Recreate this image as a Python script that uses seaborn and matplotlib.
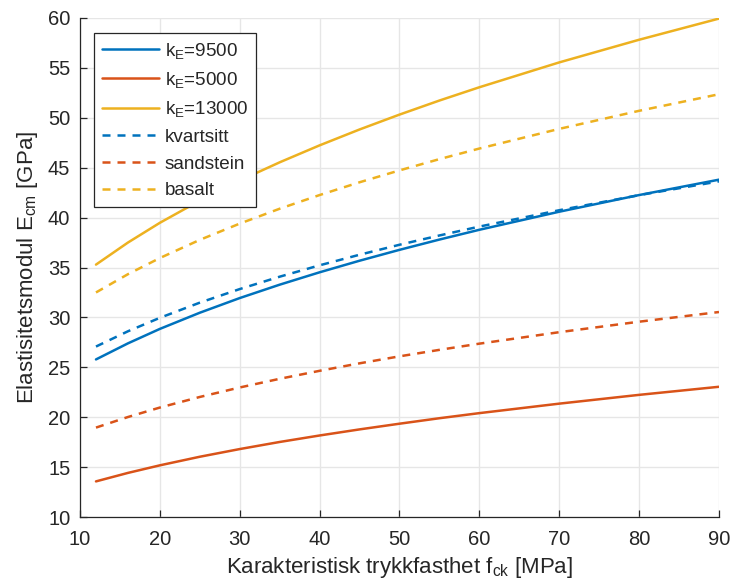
import numpy as np
import pandas as pd
import matplotlib
matplotlib.use("Agg")
import matplotlib.pyplot as plt
import seaborn as sns

fck = [12, 16, 20, 25, 30, 35, 40, 45, 50, 55, 60, 70, 80, 90]
kE9500 = [25.79, 27.40, 28.85, 30.47, 31.94, 33.28, 34.52, 35.68, 36.77, 37.80, 38.78, 40.59, 42.26, 43.80]
kE5000 = [13.57, 14.42, 15.18, 16.04, 16.81, 17.52, 18.17, 18.78, 19.35, 19.90, 20.41, 21.36, 22.24, 23.05]
kE13000 = [35.29, 37.50, 39.48, 41.70, 43.71, 45.54, 47.24, 48.83, 50.32, 51.73, 53.06, 55.55, 57.82, 59.94]
kvartsitt = [27.08, 28.61, 29.96, 31.48, 32.84, 34.08, 35.22, 36.28, 37.28, 38.21, 39.10, 40.74, 42.25, 43.63]
sandstein = [18.96, 20.02, 20.97, 22.03, 22.98, 23.85, 24.65, 25.40, 26.10, 26.75, 27.37, 28.52, 29.57, 30.54]
basalt = [32.50, 34.33, 35.95, 37.77, 39.40, 40.89, 42.26, 43.54, 44.73, 45.86, 46.92, 48.89, 50.70, 52.36]

labels = [r"k$_\mathregular{E}$=9500", r"k$_\mathregular{E}$=5000", r"k$_\mathregular{E}$=13000",
          "kvartsitt", "sandstein", "basalt"]
series = [kE9500, kE5000, kE13000, kvartsitt, sandstein, basalt]

rows = []
for lab, vals in zip(labels, series):
    for x, y in zip(fck, vals):
        rows.append({"fck": x, "E": y, "serie": lab})
df = pd.DataFrame(rows)

sns.set_style("white")
plt.rcParams["font.family"] = ["Liberation Sans", "DejaVu Sans"]
plt.rcParams["mathtext.fontset"] = "custom"
plt.rcParams["mathtext.rm"] = "Liberation Sans"
plt.rcParams["mathtext.it"] = "Liberation Sans"

blue, red, yellow = "#0072BD", "#D95319", "#EDB120"
palette = dict(zip(labels, [blue, red, yellow, blue, red, yellow]))
dashes = dict(zip(labels, ["", "", "", (3.2, 2.8), (3.2, 2.8), (3.2, 2.8)]))

fig = plt.figure(figsize=(7.32, 5.86), dpi=100)
ax = fig.add_axes([0.1093, 0.1177, 0.8729, 0.8516])
sns.lineplot(data=df, x="fck", y="E", hue="serie", style="serie", palette=palette,
             dashes=dashes, hue_order=labels, style_order=labels, linewidth=1.8, ax=ax,
             legend="full")

ax.set_xlim(10, 90)
ax.set_ylim(10, 60)
ax.set_xticks(np.arange(10, 91, 10))
ax.set_yticks(np.arange(10, 61, 5))
ax.grid(True, color="#e6e6e6", linewidth=1)
ax.set_axisbelow(True)
for s in ["top", "right"]:
    ax.spines[s].set_visible(False)
for s in ["left", "bottom"]:
    ax.spines[s].set_color("#262626")
    ax.spines[s].set_linewidth(0.9)
ax.tick_params(direction="in", length=5, width=0.9, color="#262626", labelsize=14.5,
               labelcolor="#262626", left=True, bottom=True)
ax.tick_params(axis="x", pad=9)
ax.tick_params(axis="y", pad=7)
ax.set_xlabel(r"Karakteristisk trykkfasthet f$_\mathregular{ck}$ [MPa]", fontsize=16, color="#262626", labelpad=5)
ax.set_ylabel(r"Elastisitetsmodul E$_\mathregular{cm}$ [GPa]", fontsize=16, color="#262626", labelpad=6)

h, l = ax.get_legend_handles_labels()
leg = ax.legend(h, l, loc="upper left", bbox_to_anchor=(0.022, 0.97), borderaxespad=0,
                fontsize=13.6, frameon=True, fancybox=False, framealpha=1, edgecolor="#262626",
                handlelength=3.05, borderpad=0.4, labelspacing=0.5, handletextpad=0.3)
leg.get_frame().set_linewidth(0.9)

fig.savefig("out.png", dpi=100)
